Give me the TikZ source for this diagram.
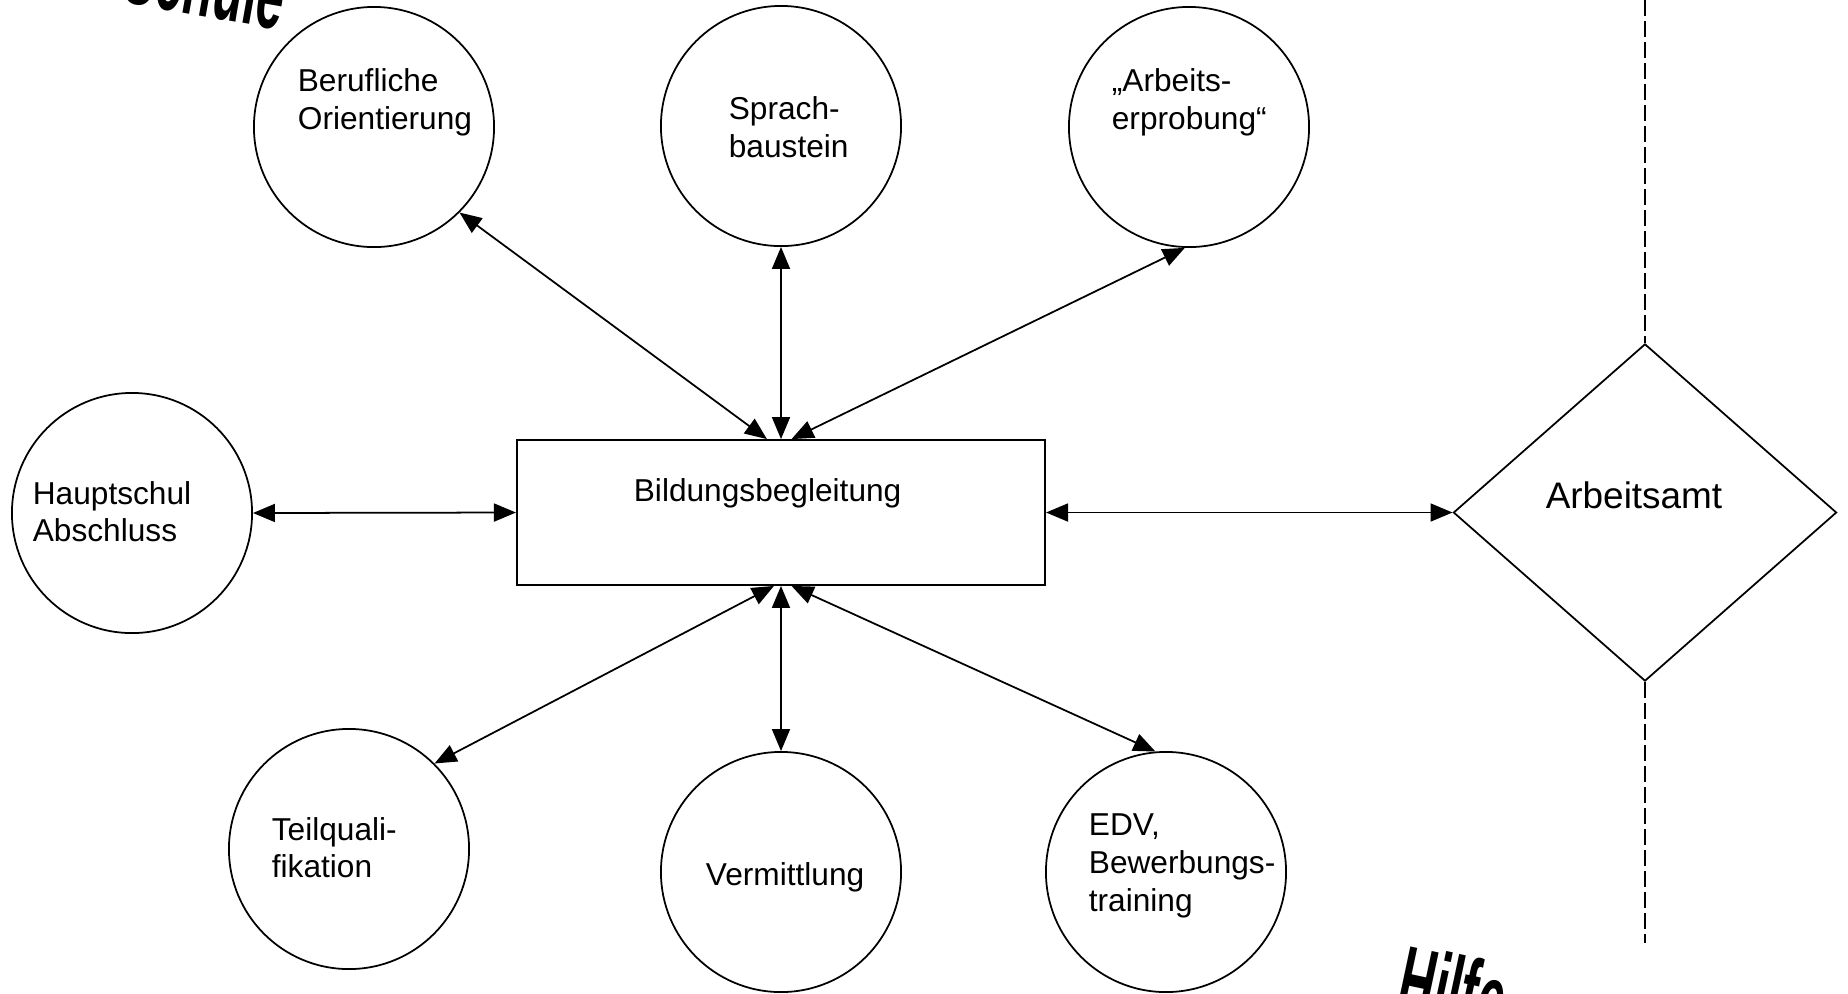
\documentclass[tikz,border=0pt]{standalone}
\usepackage{fontspec}
\setmainfont{Liberation Sans}
\usetikzlibrary{arrows.meta, shapes.geometric}

\tikzset{
  kreis/.style={draw, circle, minimum size=2.4cm, inner sep=0pt},
  txt/.style={anchor=west, align=left, inner sep=0pt, font=\fontsize{9}{10.7}\selectfont},
  pfeil/.style={{Triangle[length=2.2mm,width=1.8mm]}-{Triangle[length=2.2mm,width=1.8mm]}},
  wordart/.style={inner sep=0pt, font=\fontsize{28}{28}\selectfont\bfseries, xscale=0.5, transform shape},
  strich/.style={dash pattern=on 0.16cm off 0.05cm}
}

\begin{document}
\begin{tikzpicture}[x=0.01cm, y=-0.01cm, line width=0.5pt]
\useasboundingbox (0,0) rectangle (1848,993);
\clip (0,0) rectangle (1848,993);

% Kreise oben
\node[kreis] (bo) at (374,127) {};
\node[kreis] (sb) at (781,126) {};
\node[kreis] (ae) at (1189,127) {};
\node[txt] (bot) at (297,102.5) {Berufliche\\Orientierung};
\node[txt] (sbt) at (728,127) {Sprach-\\baustein};
\node[txt] (aet) at (1111,102.5) {„Arbeits-\\erprobung“};

% Mitte
\node[kreis] (hs) at (132,513) {};
\node[txt] (hst) at (32,511.5) {Hauptschul\\Abschluss};
\node[draw, minimum width=5.28cm, minimum height=1.45cm, inner sep=0pt] (bb) at (781,512.5) {};
\node[txt] (bbt) at (633,493) {Bildungsbegleitung};
\node[draw, diamond, minimum width=3.83cm, minimum height=3.37cm, inner sep=0pt] (aa) at (1645,512.5) {};
\node[inner sep=0pt, font=\fontsize{10.5}{12}\selectfont] (aat) at (1634,495) {Arbeitsamt};

% Kreise unten
\node[kreis] (tq) at (349,849) {};
\node[kreis] (vm) at (781,872) {};
\node[kreis] (edv) at (1166,872) {};
\node[txt] (tqt) at (271,847.5) {Teilquali-\\fikation};
\node[txt] (vmt) at (705,877) {Vermittlung};
\node[txt] (edvt) at (1088,866) {EDV,\\Bewerbungs-\\training};

% Pfeile
\draw[pfeil] (bo.-45) -- ([xshift=-4pt]bb.north);
\draw[pfeil] (sb.south) -- (bb.north);
\draw[pfeil] (ae.-92) -- ([xshift=3pt]bb.north);
\draw[pfeil] (hs.east) -- (bb.west);
\draw[pfeil] (bb.east) -- (aa.west);
\draw[pfeil] (tq.45) -- ([xshift=-2pt]bb.south);
\draw[pfeil] (vm.north) -- (bb.south);
\draw[pfeil] (edv.95) -- ([xshift=3pt]bb.south);

% Trennlinie
\coordinate (oben) at (1645,0);
\coordinate (unten) at (1645,943);
\draw[strich] (oben) -- (aa.north);
\draw[strich] (aa.south) -- (unten);

% WordArt-Reste am Rand
\node[rotate=-10, wordart, anchor=base east] (schule) at (280,30) {Schule};
\node[rotate=-12, wordart, anchor=north west] (hilfe) at (1408,942) {Hilfe};
\end{tikzpicture}
\end{document}
